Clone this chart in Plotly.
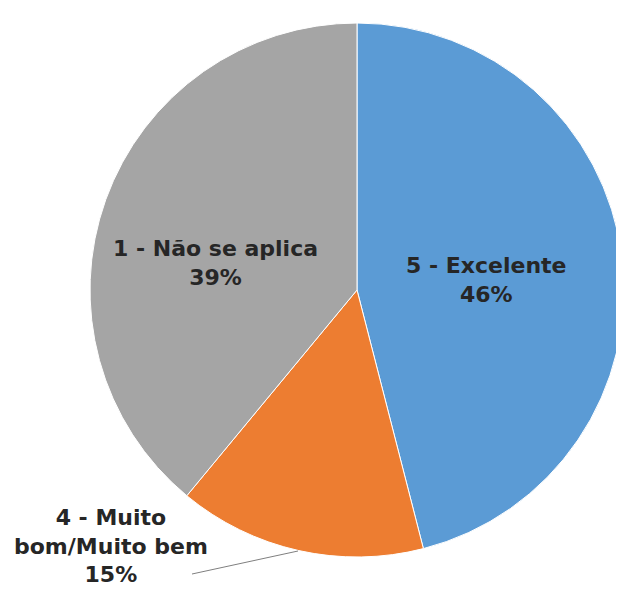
import plotly.graph_objects as go

labels = ["5 - Excelente", "4 - Muito bom/Muito bem", "1 - Não se aplica"]
label_lines = [["5 - Excelente"], ["4 - Muito", "bom/Muito bem"], ["1 - Não se aplica"]]
values = [46, 15, 39]
colors = ["#5B9BD5", "#ED7D31", "#A5A5A5"]

W, H = 624, 591
OFF = 8  # page body margin offset
def px(x):
    return (x - OFF) / W
def py(y):
    return 1 - (y - OFF) / H

fig = go.Figure(go.Pie(
    labels=labels, values=values, sort=False, direction="clockwise", rotation=0,
    marker=dict(colors=colors, line=dict(color="white", width=1)),
    textinfo="none", hoverinfo="label+percent", showlegend=False,
    domain=dict(x=[px(90), px(624)], y=[py(557), py(23)]),
))

total = sum(values)
# (center x, block center y) for each label block
label_pos = [(486, 280), (111, 546), (215, 263)]
annotations = []
for lines, v, (x, y) in zip(label_lines, values, label_pos):
    texts = lines + [f"{round(100 * v / total)}%"]
    annotations.append(dict(
        x=px(x), y=py(y), xref="paper", yref="paper",
        text="<b>" + "<br>".join(texts) + "</b>", showarrow=False,
        font=dict(family="DejaVu Sans", size=22, color="#262626"),
        align="center", xanchor="center", yanchor="middle",
    ))

fig.update_layout(
    width=W, height=H, margin=dict(l=0, r=0, t=0, b=0),
    paper_bgcolor="white", plot_bgcolor="white",
    annotations=annotations,
    shapes=[dict(type="line", xref="paper", yref="paper",
                 x0=px(192), y0=py(574), x1=px(298), y1=py(551),
                 line=dict(color="#7F7F7F", width=1))],
)
fig.write_html("out.html")
